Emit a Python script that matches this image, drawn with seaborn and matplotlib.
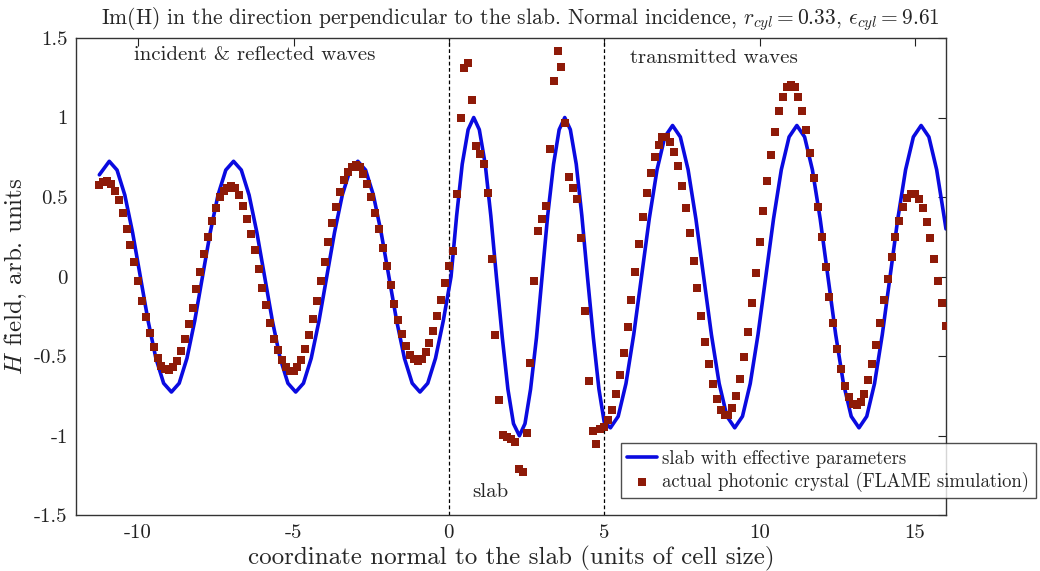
import seaborn as sns
import matplotlib.pyplot as plt

# effective-medium slab (blue curve)
line_x = [-11.25, -10.93, -10.68, -10.43, -10.18, -9.93, -9.68, -9.43, -9.18, -8.93,
          -8.68, -8.43, -8.18, -7.93, -7.68, -7.43, -7.18, -6.93, -6.68, -6.43,
          -6.18, -5.93, -5.68, -5.43, -5.18, -4.93, -4.68, -4.43, -4.18, -3.93,
          -3.68, -3.43, -3.18, -2.93, -2.68, -2.43, -2.18, -1.93, -1.68, -1.43,
          -1.18, -0.93, -0.68, -0.43, -0.18, 0.07,
          0.25, 0.43, 0.62, 0.80, 0.98, 1.17, 1.35, 1.53, 1.72, 1.90,
          2.08, 2.27, 2.45, 2.63, 2.82, 3.00, 3.18, 3.37, 3.55, 3.73,
          3.91, 4.10, 4.28, 4.46, 4.65, 4.83, 5.00,
          5.20, 5.45, 5.70, 5.95, 6.20, 6.45, 6.70, 6.95, 7.20, 7.45,
          7.70, 7.95, 8.20, 8.45, 8.70, 8.95, 9.20, 9.45, 9.70, 9.95,
          10.20, 10.45, 10.70, 10.95, 11.20, 11.45, 11.70, 11.95, 12.20, 12.45,
          12.70, 12.95, 13.20, 13.45, 13.70, 13.95, 14.20, 14.45, 14.70, 14.95,
          15.20, 15.45, 15.70, 15.95, 16.00]
line_y = [0.64, 0.725, 0.67, 0.513, 0.278, 0.0, -0.278, -0.513, -0.67, -0.725,
          -0.67, -0.513, -0.278, 0.0, 0.278, 0.513, 0.67, 0.725, 0.67, 0.513,
          0.278, 0.0, -0.278, -0.513, -0.67, -0.725, -0.67, -0.513, -0.278, 0.0,
          0.278, 0.513, 0.67, 0.725, 0.67, 0.513, 0.278, 0.0, -0.278, -0.513,
          -0.67, -0.725, -0.67, -0.513, -0.278, 0.0,
          0.383, 0.707, 0.924, 1.0, 0.924, 0.707, 0.383, 0.0, -0.383, -0.707,
          -0.924, -1.0, -0.924, -0.707, -0.383, 0.0, 0.383, 0.707, 0.924, 1.0,
          0.924, 0.707, 0.383, 0.0, -0.383, -0.707, -0.914,
          -0.95, -0.878, -0.672, -0.364, 0.0, 0.364, 0.672, 0.878, 0.95, 0.878,
          0.672, 0.364, 0.0, -0.364, -0.672, -0.878, -0.95, -0.878, -0.672, -0.364,
          0.0, 0.364, 0.672, 0.878, 0.95, 0.878, 0.672, 0.364, 0.0, -0.364,
          -0.672, -0.878, -0.95, -0.878, -0.672, -0.364, 0.0, 0.364, 0.672, 0.878,
          0.95, 0.878, 0.672, 0.364, 0.30]

# FLAME simulation samples (red squares)
sim_x = [-11.25, -11.125, -11.0, -10.875, -10.75, -10.625, -10.5, -10.375,
         -10.25, -10.125, -10.0, -9.875, -9.75, -9.625, -9.5, -9.375,
         -9.25, -9.125, -9.0, -8.875, -8.75, -8.625, -8.5, -8.375,
         -8.25, -8.125, -8.0, -7.875, -7.75, -7.625, -7.5, -7.375,
         -7.25, -7.125, -7.0, -6.875, -6.75, -6.625, -6.5, -6.375,
         -6.25, -6.125, -6.0, -5.875, -5.75, -5.625, -5.5, -5.375,
         -5.25, -5.125, -5.0, -4.875, -4.75, -4.625, -4.5, -4.375,
         -4.25, -4.125, -4.0, -3.875, -3.75, -3.625, -3.5, -3.375,
         -3.25, -3.125, -3.0, -2.875, -2.75, -2.625, -2.5, -2.375,
         -2.25, -2.125, -2.0, -1.875, -1.75, -1.625, -1.5, -1.375,
         -1.25, -1.125, -1.0, -0.875, -0.75, -0.625, -0.5, -0.375,
         -0.25, -0.125,
         0.0, 0.125, 0.25, 0.375, 0.5, 0.625, 0.75, 0.875,
         1.0, 1.125, 1.25, 1.375, 1.5, 1.625, 1.75, 1.875,
         2.0, 2.125, 2.25, 2.375, 2.5, 2.625, 2.75, 2.875,
         3.0, 3.125, 3.25, 3.375, 3.5, 3.625, 3.75, 3.875,
         4.0, 4.125, 4.25, 4.375, 4.5, 4.625, 4.75, 4.875,
         5.0,
         5.125, 5.25, 5.375, 5.5, 5.625, 5.75, 5.875, 6.0,
         6.125, 6.25, 6.375, 6.5, 6.625, 6.75, 6.875, 7.0,
         7.125, 7.25, 7.375, 7.5, 7.625, 7.75, 7.875, 8.0,
         8.125, 8.25, 8.375, 8.5, 8.625, 8.75, 8.875, 9.0,
         9.125, 9.25, 9.375, 9.5, 9.625, 9.75, 9.875, 10.0,
         10.125, 10.25, 10.375, 10.5, 10.625, 10.75, 10.875, 11.0,
         11.125, 11.25, 11.375, 11.5, 11.625, 11.75, 11.875, 12.0,
         12.125, 12.25, 12.375, 12.5, 12.625, 12.75, 12.875, 13.0,
         13.125, 13.25, 13.375, 13.5, 13.625, 13.75, 13.875, 14.0,
         14.125, 14.25, 14.375, 14.5, 14.625, 14.75, 14.875, 15.0,
         15.125, 15.25, 15.375, 15.5, 15.625, 15.75, 15.875, 16.0]
sim_y = [0.575, 0.595, 0.598, 0.58, 0.54, 0.48, 0.40, 0.30,
         0.20, 0.09, -0.03, -0.15, -0.255, -0.355, -0.445, -0.51,
         -0.56, -0.58, -0.585, -0.565, -0.53, -0.47, -0.39, -0.30,
         -0.195, -0.08, 0.03, 0.145, 0.25, 0.35, 0.43, 0.50,
         0.54, 0.56, 0.572, 0.555, 0.51, 0.445, 0.36, 0.27,
         0.165, 0.05, -0.07, -0.18, -0.29, -0.39, -0.46, -0.525,
         -0.57, -0.59, -0.59, -0.57, -0.525, -0.455, -0.365, -0.265,
         -0.15, -0.03, 0.095, 0.22, 0.335, 0.435, 0.53, 0.605,
         0.66, 0.69, 0.70, 0.69, 0.645, 0.58, 0.50, 0.40,
         0.30, 0.18, 0.065, -0.055, -0.175, -0.275, -0.36, -0.435,
         -0.49, -0.52, -0.53, -0.515, -0.475, -0.415, -0.34, -0.245,
         -0.145, -0.04,
         0.07, 0.16, 0.52, 1.0, 1.31, 1.345, 1.11, 0.82,
         0.77, 0.71, 0.525, 0.11, -0.365, -0.775, -0.995, -1.005,
         -1.02, -1.04, -1.21, -1.225, -0.98, -0.54, -0.03, 0.29,
         0.365, 0.445, 0.805, 1.23, 1.415, 1.32, 0.965, 0.625,
         0.555, 0.485, 0.24, -0.215, -0.655, -0.97, -1.05, -0.955,
         -0.945,
         -0.90, -0.835, -0.74, -0.62, -0.477, -0.315, -0.145, 0.03,
         0.205, 0.372, 0.524, 0.65, 0.752, 0.826, 0.875, 0.88,
         0.846, 0.786, 0.696, 0.57, 0.43, 0.273, 0.10, -0.07,
         -0.247, -0.409, -0.549, -0.677, -0.769, -0.84, -0.87, -0.87,
         -0.825, -0.75, -0.645, -0.507, -0.346, -0.167, 0.025, 0.22,
         0.415, 0.60, 0.765, 0.912, 1.038, 1.128, 1.19, 1.205,
         1.19, 1.13, 1.042, 0.922, 0.778, 0.619, 0.436, 0.25,
         0.058, -0.126, -0.29, -0.452, -0.583, -0.686, -0.757, -0.803,
         -0.805, -0.79, -0.735, -0.652, -0.55, -0.43, -0.289, -0.149,
         -0.015, 0.126, 0.25, 0.352, 0.435, 0.496, 0.52, 0.518,
         0.488, 0.43, 0.346, 0.24, 0.111, -0.027, -0.165, -0.308]

slab_edges = [0, 5]
x_ticks = [-10, -5, 0, 5, 10, 15]
x_labels = ["-10", "-5", "0", "5", "10", "15"]
y_ticks = [-1.5, -1, -0.5, 0, 0.5, 1, 1.5]
y_labels = ["-1.5", "-1", "-0.5", "0", "0.5", "1", "1.5"]

sns.set_style("white")
plt.rcParams["font.family"] = ["cmr10", "DejaVu Serif"]
plt.rcParams["mathtext.fontset"] = "cm"
plt.rcParams["axes.unicode_minus"] = False
plt.rcParams["axes.formatter.use_mathtext"] = True

fig = plt.figure(figsize=(10.4, 5.71), dpi=100)
ax = fig.add_axes([0.0731, 0.0975, 0.8365, 0.836])

sns.lineplot(x=line_x, y=line_y, sort=False, color="#0a0ae0", lw=2.6,
             label="slab with effective parameters", ax=ax, zorder=2)
sns.scatterplot(x=sim_x, y=sim_y, marker="s", s=32, color="#8e1a08",
                linewidth=0, label="actual photonic crystal (FLAME simulation)",
                ax=ax, zorder=3)
for xe in slab_edges:
    ax.axvline(xe, color="k", lw=0.9, ls=(0, (3, 2)), zorder=1)

ax.set_xlim(-12, 16)
ax.set_ylim(-1.5, 1.5)
ax.set_xticks(x_ticks, x_labels)
ax.set_yticks(y_ticks, y_labels)
ax.tick_params(direction="in", length=6, width=0.8, top=True, right=True,
               labelsize=15, colors="#222222", pad=6)
for sp in ax.spines.values():
    sp.set_color("#333333")
    sp.set_linewidth(1.0)

ax.set_xlabel("coordinate normal to the slab (units of cell size)", fontsize=18, labelpad=3)
ax.set_ylabel("$H$ field, arb. units", fontsize=18, labelpad=4)
fig.text(0.5, 0.9580, r"Im(H) in the direction perpendicular to the slab. Normal incidence, "
         r"$r_{cyl}=0.33$, $\epsilon_{cyl}=9.61$", ha="center", va="baseline", fontsize=15.5)

ax.text(-10.15, 1.39, "incident & reflected waves", fontsize=15, va="center")
ax.text(5.83, 1.375, "transmitted waves", fontsize=15, va="center")
ax.text(1.34, -1.355, "slab", fontsize=15, va="center", ha="center")

leg = ax.legend(loc="upper left", bbox_to_anchor=(0.597, 0.224), bbox_transform=fig.transFigure,
                frameon=True, fancybox=False, edgecolor="#222222", fontsize=13.5,
                handlelength=1.6, handletextpad=0.25, borderpad=0.35, labelspacing=0.2,
                scatterpoints=1, borderaxespad=0)
leg.get_frame().set_linewidth(1.0)

fig.savefig("out.png", dpi=100)
